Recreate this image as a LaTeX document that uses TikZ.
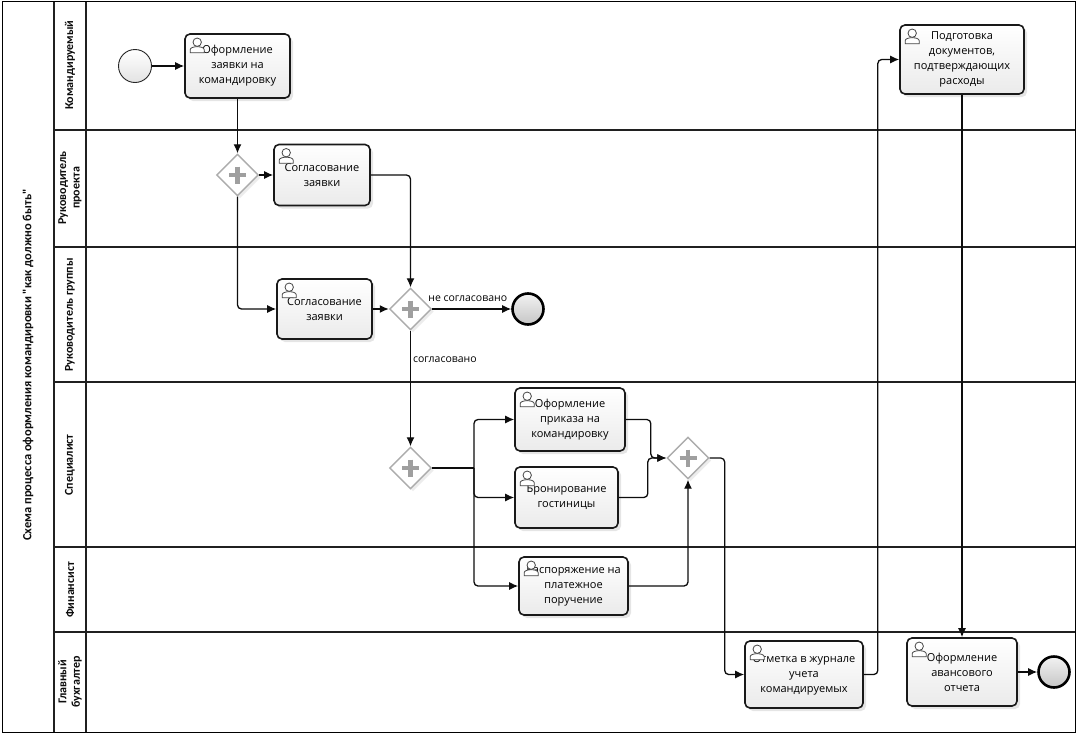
\documentclass[tikz,border=0pt]{standalone}
\usepackage{fontspec}
\setmainfont{Open Sans}
\newfontfamily\lanefont{Carlito}
\usetikzlibrary{shapes.geometric,arrows.meta,shadows}

\tikzset{
 lane/.style={draw=gray!25!black, line width=1.2pt},
 task/.style={draw=gray!20!black, line width=1.6pt, rounded corners=5pt,
   top color=white, bottom color=gray!16, align=center,
   font=\fontsize{11}{15}\selectfont, inner sep=2pt,
   drop shadow={shadow xshift=3pt, shadow yshift=-3pt, opacity=0.2}},
 gate/.style={diamond, draw=gray!65, line width=1.4pt, fill=white,
   minimum width=42pt, minimum height=42pt, inner sep=0pt,
   drop shadow={shadow xshift=2.5pt, shadow yshift=-2.5pt, opacity=0.15}},
 startev/.style={circle, draw=gray!30!black, line width=0.9pt, minimum size=33pt,
   inner sep=0pt, top color=white, bottom color=gray!22},
 endev/.style={circle, draw=black, line width=2.6pt, minimum size=31pt,
   inner sep=0pt, top color=gray!10, bottom color=gray!45},
 flow/.style={draw=gray!10!black, line width=1.3pt, rounded corners=4pt,
   -{Latex[length=9pt,width=8pt]}},
 lanelabel/.style={rotate=90, font=\lanefont\bfseries\fontsize{12}{13.5}\selectfont,
   align=center, text=gray!10!black},
 titlelabel/.style={rotate=90, font=\lanefont\bfseries\fontsize{12.5}{14}\selectfont,
   text=gray!10!black},
 lbl/.style={font=\fontsize{10.5}{12}\selectfont, inner sep=2pt},
 usr/.pic={
   \draw[gray!55!black, line width=0.8pt, fill=white]
     (-7,10.5) -- (-7,7.5) .. controls (-7,3.5) and (7,3.5) .. (7,7.5) -- (7,10.5) -- cycle;
   \draw[gray!55!black, line width=0.8pt, fill=white] (0,0) circle (4.2);
 },
 plus/.pic={
   \draw[gray!75, line width=4.8pt] (-8.5,0) -- (8.5,0) (0,-8.5) -- (0,8.5);
 }
}

\begin{document}
\begin{tikzpicture}[x=1pt,y=-1pt]
\useasboundingbox (0,0) rectangle (1077,734);
\fill[white] (0,0) rectangle (1077,734);

% pool and lanes
\draw[black, line width=1pt] (2,1.5) rectangle (1075,732);
\draw[lane] (54,1.5) -- (54,732);
\draw[lane] (86,1.5) -- (86,732);
\foreach \yy in {130,247,382,547,632}
  \draw[lane] (54,\yy) -- (1075,\yy);

\node[titlelabel] (title) at (28,365) {Схема процесса оформления командировки "как должно быть"};
\node[lanelabel] (l1) at (70,65) {Командируемый};
\node[lanelabel] (l2) at (70,188) {Руководитель\\проекта};
\node[lanelabel] (l3) at (70,315) {Руководитель группы};
\node[lanelabel] (l4) at (70,465) {Специалист};
\node[lanelabel] (l5) at (70,590) {Финансист};
\node[lanelabel] (l6) at (70,682) {Главный\\бухгалтер};

% events
\node[startev] (start) at (135,66) {};
\node[endev] (e1) at (528,309) {};
\node[endev] (e2) at (1054,672) {};

% tasks
\node[task, minimum width=105pt, minimum height=64pt] (t1) at (237.5,66) {Оформление\\заявки на\\командировку};
\node[task, minimum width=96pt, minimum height=61pt] (t2) at (322,175) {Согласование\\заявки};
\node[task, minimum width=95pt, minimum height=60pt] (t3) at (324.5,309) {Согласование\\заявки};
\node[task, minimum width=110pt, minimum height=63pt] (t4) at (570,419.5) {Оформление\\приказа на\\командировку};
\node[task, minimum width=103pt, minimum height=61pt] (t5) at (566.5,497.5) {Бронирование\\гостиницы};
\node[task, minimum width=109pt, minimum height=58pt] (t6) at (573.5,586) {Распоряжение на\\платежное\\поручение};
\node[task, minimum width=118pt, minimum height=67pt] (t7) at (804,674.5) {Отметка в журнале\\учета\\командируемых};
\node[task, minimum width=110pt, minimum height=68pt] (t8) at (962,672) {Оформление\\авансового\\отчета};
\node[task, minimum width=124pt, minimum height=69pt] (t9) at (962,59.5) {Подготовка\\документов,\\подтверждающих\\расходы};

\foreach \t in {t1,t2,t3,t4,t5,t6,t7,t8,t9}
  \pic at ([shift={(13,9)}]\t.north west) {usr};

% gateways
\node[gate] (g1) at (237.5,175) {};
\node[gate] (g2) at (410.5,309) {};
\node[gate] (g3) at (410.5,468) {};
\node[gate] (g4) at (688,458) {};
\foreach \g in {g1,g2,g3,g4}
  \pic at (\g) {plus};

\coordinate (sp) at (474,468);

% flows
\draw[flow] (start) -- (t1);
\draw[flow] (t1.south) -- (g1.north);
\draw[flow] (g1.east) -- (t2.west);
\draw[flow] (g1.south) |- (t3.west);
\draw[flow] (t2.east) -| (g2.north);
\draw[flow] (t3.east) -- (g2.west);
\draw[flow] (g2.east) -- node[lbl, pos=0.45, above=5pt] (ln) {не согласовано} (e1);
\draw[flow] (g2.south) -- node[lbl, pos=0.25, right=0pt] (ly) {согласовано} (g3.north);
\draw[draw=gray!10!black, line width=1.3pt] (g3.east) -- (sp);
\draw[flow] (sp) |- (t4.west);
\draw[flow] (sp) |- (t5.west);
\draw[flow] (sp) |- (t6.west);
\draw[flow] (t4.east) -- ++(25,0) |- (g4.west);
\draw[flow] (t5.east) -- ++(29,0) |- (g4.west);
\draw[flow] (t6.east) -| (g4.south);
\draw[flow] (g4.east) -- ++(15,0) |- (t7.west);
\draw[flow] (t7.east) -- ++(14,0) |- (t9.west);
\draw[flow] (t9.south) -- (t8.north);
\draw[flow] (t8.east) -- (e2);
\end{tikzpicture}
\end{document}
